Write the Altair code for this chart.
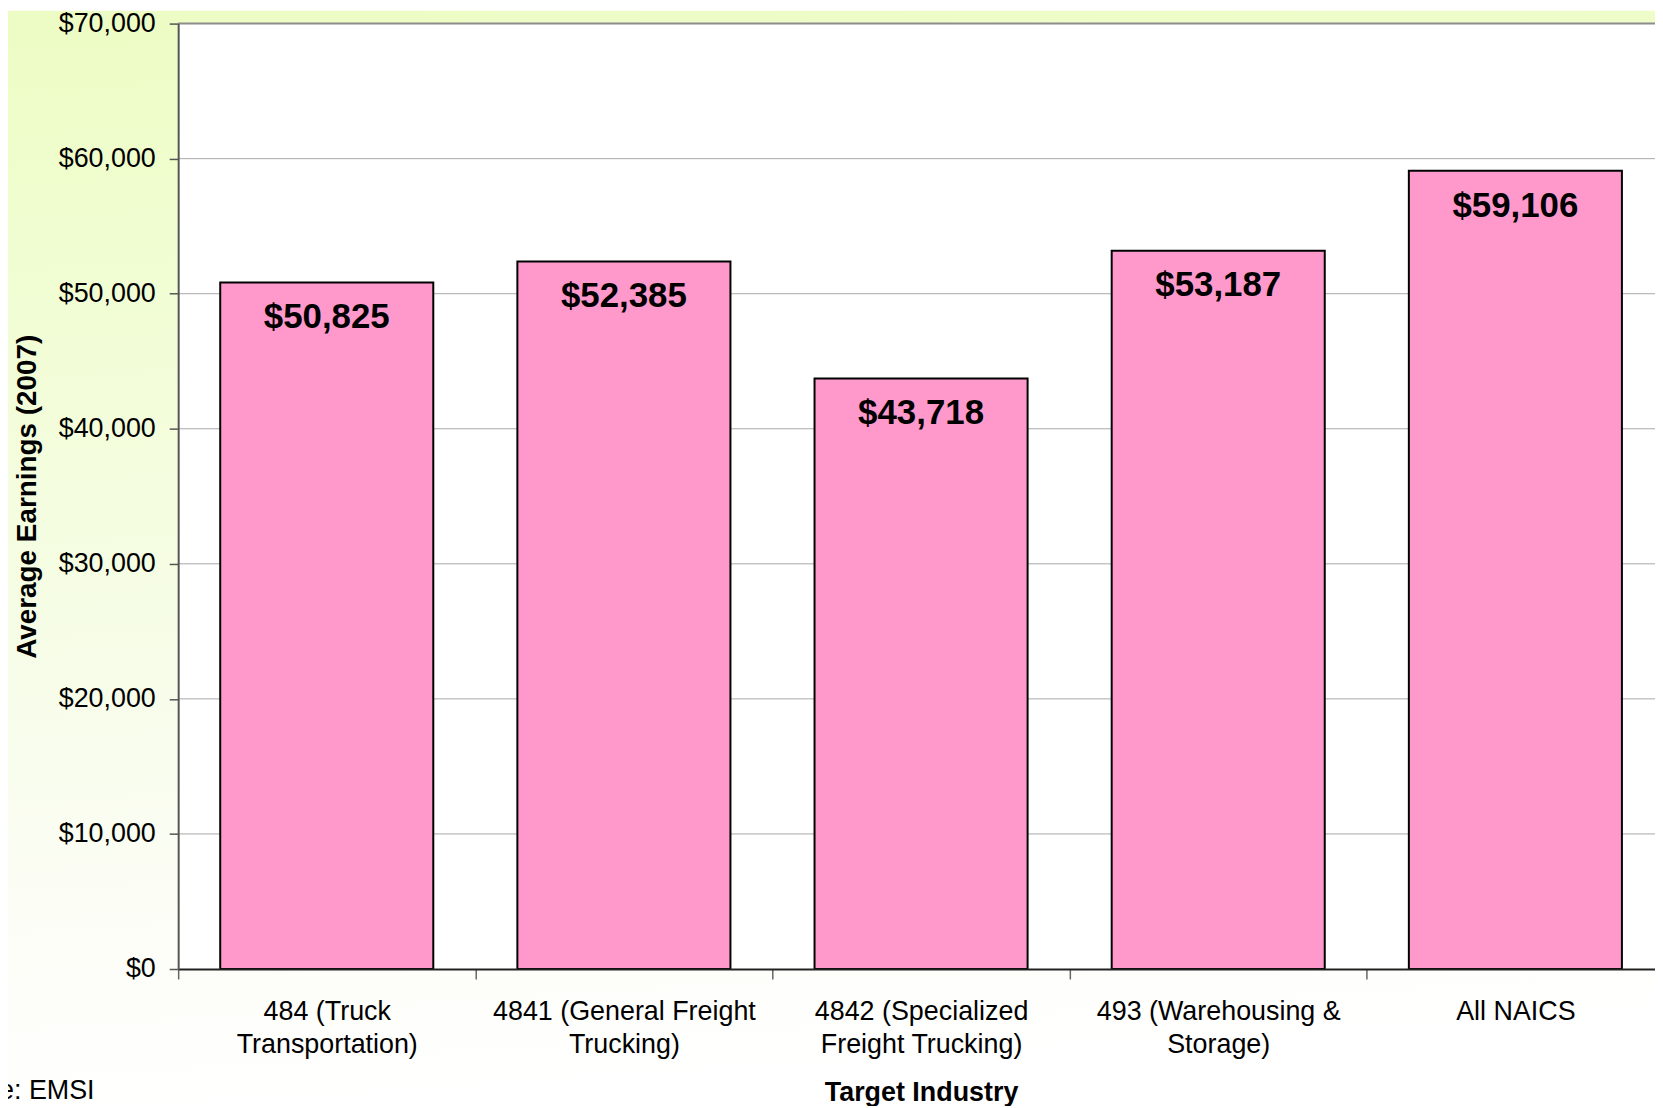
import altair as alt
import pandas as pd

# ---- data ----
categories = [
    "484 (Truck\nTransportation)",
    "4841 (General Freight\nTrucking)",
    "4842 (Specialized\nFreight Trucking)",
    "493 (Warehousing &\nStorage)",
    "All NAICS",
]
earnings = [50825, 52385, 43718, 53187, 59106]
grid_values = [10000, 20000, 30000, 40000, 50000, 60000]
top_value = [70000]
y_ticks = [0, 10000, 20000, 30000, 40000, 50000, 60000, 70000]
source_note = "Source: EMSI"
y_title = "Average Earnings (2007)"
x_title = "Target Industry"

# ---- layout ----
W = 1484          # visible plot width
H = 950
PAD_L = 171
PAD_T = 13
SVG_H = 1098
PAD_B = SVG_H - H - PAD_T
FONT = "Liberation Sans"
STEP = 298.6      # band step of the reference (plot runs past the page edge)

bars_df = pd.DataFrame({"industry": categories, "earnings": earnings})
grid_df = pd.DataFrame({"v": grid_values})
top_df = pd.DataFrame({"v": top_value})
one_df = pd.DataFrame({"a": [0]})

p_inner = 0.283
p_outer = (W / STEP - len(categories) + p_inner) / 2
align = (STEP * p_inner / 2) / (2 * p_outer * STEP)

x_scale = alt.Scale(domain=categories, paddingInner=p_inner,
                    paddingOuter=p_outer, align=align)
y_scale = alt.Scale(domain=[0, 70000], nice=False, zero=True)

y_axis = alt.Axis(
    title=y_title, values=y_ticks, format="$,.0f", grid=False,
    tickSize=9, tickColor="#555555", tickWidth=1.5,
    domainColor="#555555", domainWidth=2,
    labelFont=FONT, labelFontSize=27, labelColor="black", labelPadding=14,
    titleFont=FONT, titleFontSize=28, titleFontWeight="bold", titleColor="black",
    titlePadding=17, zindex=1,
)
x_axis = alt.Axis(
    title=x_title, labelAngle=0, labelExpr="split(datum.label, '\\n')",
    tickOffset=-STEP / 2, labelOffset=STEP / 2,
    tickSize=10, tickColor="#666666", tickWidth=1.5,
    domainColor="#222222", domainWidth=2,
    labelFont=FONT, labelFontSize=27, labelColor="black", labelLineHeight=33,
    labelPadding=20, labelLimit=0, labelOverlap=False,
    titleFont=FONT, titleFontSize=27, titleFontWeight="bold", titleColor="black",
    titlePadding=22, titleX=STEP * len(categories) / 2, zindex=1,
)

bg = alt.Chart(one_df).mark_rect(
    color=alt.Gradient(
        gradient="linear",
        stops=[alt.GradientStop(color="#EDFCC4", offset=0),
               alt.GradientStop(color="#F0FDD0", offset=0.2),
               alt.GradientStop(color="#F6FDE6", offset=0.55),
               alt.GradientStop(color="#FCFDF6", offset=0.82),
               alt.GradientStop(color="#FFFFFF", offset=1)],
        x1=0, y1=0, x2=0.1, y2=1,
    )
).encode(x=alt.value(-PAD_L), x2=alt.value(W + 20),
         y=alt.value(-PAD_T), y2=alt.value(SVG_H))

plot_bg = alt.Chart(one_df).mark_rect(color="white").encode(
    x=alt.value(0), x2=alt.value(W + 20), y=alt.value(0), y2=alt.value(H))

grid = alt.Chart(grid_df).mark_rule(color="#A8A8A8", strokeWidth=1).encode(
    y=alt.Y("v:Q", scale=y_scale, axis=y_axis))

top_line = alt.Chart(top_df).mark_rule(color="#8C8C8C", strokeWidth=2).encode(
    y=alt.Y("v:Q", scale=y_scale, axis=y_axis))

bars = alt.Chart(bars_df).mark_bar(
    color="#FF99CC", stroke="black", strokeWidth=2
).encode(
    x=alt.X("industry:N", scale=x_scale, sort=categories, axis=x_axis),
    y=alt.Y("earnings:Q", scale=y_scale, axis=y_axis),
)

labels = alt.Chart(bars_df).mark_text(
    font=FONT, fontSize=35, fontWeight="bold", color="black",
    baseline="middle", dy=35,
).encode(
    x=alt.X("industry:N", scale=x_scale, sort=categories, axis=x_axis),
    y=alt.Y("earnings:Q", scale=y_scale, axis=y_axis),
    text=alt.Text("earnings:Q", format="$,.0f"),
)

note = alt.Chart(one_df).mark_text(
    font=FONT, fontSize=27, color="black", align="right", baseline="middle"
).encode(x=alt.value(-84), y=alt.value(1073), text=alt.value(source_note))

chart = alt.layer(bg, plot_bg, grid, top_line, bars, labels, note).properties(
    width=W, height=H,
    autosize=alt.AutoSizeParams(type="none"),
    padding={"left": PAD_L, "top": PAD_T, "right": 0, "bottom": PAD_B},
    background="white",
).configure_view(stroke=None)

chart.save("out.html", embed_options={"renderer": "svg", "actions": False})
